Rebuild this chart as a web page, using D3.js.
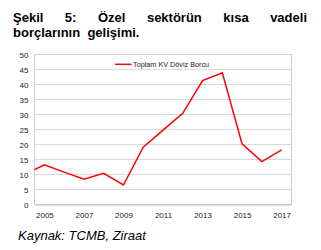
<!DOCTYPE html>
<html><head><meta charset="utf-8">
<script src="https://cdn.jsdelivr.net/npm/d3@7"></script>
<style>body{margin:0;background:#fff}svg{display:block}text{font-family:"Liberation Sans",Arial,sans-serif}</style>
</head><body>
<svg id="c" width="321" height="250"></svg>
<script>
const years = [2004,2005,2006,2007,2008,2009,2010,2011,2012,2013,2014,2015,2016,2017];
const values = [10.0,13.2,10.8,8.4,10.4,6.5,19.1,24.8,30.4,41.3,43.9,20.2,14.3,18.2];
const yTicks = [0,5,10,15,20,25,30,35,40,45,50];
const xTicks = [2005,2007,2009,2011,2013,2015,2017];
const seriesName = "Toplam KV Döviz Borcu";
const titleLine1 = ["Şekil","5:","Özel","sektörün","kısa","vadeli"];
const titleLine2 = "borçlarının  gelişimi.";
const caption = "Kaynak: TCMB, Ziraat";

const svg = d3.select("#c");
const L = 34.5, R = 291.5, T = 54.5, B = 204.5;
const x = d3.scaleLinear().domain([2004.5, 2017.5]).range([L, R]);
const y = d3.scaleLinear().domain([0, 50]).range([B, T]);

// title line 1, justified
const g1 = svg.append("g");
const words = g1.selectAll("text").data(titleLine1).join("text")
  .attr("y", 21.5).attr("font-size", 13).attr("font-weight", "bold").attr("fill", "#000")
  .text(d => d);
const widths = words.nodes().map(n => n.getComputedTextLength());
const total = d3.sum(widths);
const x0 = 13, x1 = 307;
const gap = (x1 - x0 - total) / (titleLine1.length - 1);
let cx = x0;
words.each(function(d, i){ d3.select(this).attr("x", cx); cx += widths[i] + gap; });
svg.append("text").attr("x", 13).attr("y", 36.5).attr("font-size", 13).attr("font-weight", "bold")
  .style("white-space", "pre").text(titleLine2);

// gridlines
svg.append("g").selectAll("line").data(yTicks.filter(d => d > 0)).join("line")
  .attr("x1", L).attr("x2", R).attr("y1", d => y(d)).attr("y2", d => y(d))
  .attr("stroke", "#d9d9d9").attr("stroke-width", 1);
// plot border
svg.append("rect").attr("x", L).attr("y", T).attr("width", R - L).attr("height", B - T)
  .attr("fill", "none").attr("stroke", "#cfcfcf").attr("stroke-width", 1);

// y axis
const ya = svg.append("g").attr("transform", `translate(${L},0)`)
  .call(d3.axisLeft(y).tickValues(yTicks).tickSize(0).tickPadding(6));
ya.select(".domain").remove();
ya.selectAll("text").attr("font-size", 8).attr("fill", "#222").attr("font-family", '"Liberation Sans",Arial,sans-serif');

// x axis
const xa = svg.append("g").attr("transform", `translate(0,${B})`)
  .call(d3.axisBottom(x).tickValues(xTicks).tickFormat(d3.format("d")).tickSize(0).tickPadding(8));
xa.select(".domain").attr("stroke", "#bfbfbf");
xa.selectAll("text").attr("font-size", 8).attr("fill", "#222").attr("font-family", '"Liberation Sans",Arial,sans-serif');

// clip
svg.append("clipPath").attr("id", "clip").append("rect")
  .attr("x", L).attr("y", T - 5).attr("width", R - L).attr("height", B - T + 10);

const line = d3.line().x((d, i) => x(years[i])).y(d => y(d));
svg.append("path").datum(values).attr("clip-path", "url(#clip)")
  .attr("d", line).attr("fill", "none").attr("stroke", "#ff0000").attr("stroke-width", 1.5)
  .attr("stroke-linejoin", "miter");

// legend
svg.append("line").attr("x1", 115).attr("x2", 131.5).attr("y1", 64.3).attr("y2", 64.3)
  .attr("stroke", "#ff0000").attr("stroke-width", 1.5);
svg.append("text").attr("x", 133).attr("y", 66.8).attr("font-size", 7.25).attr("fill", "#222").text(seriesName);

// caption
svg.append("text").attr("x", 18).attr("y", 239.5).attr("font-size", 13).attr("font-style", "italic")
  .attr("fill", "#000").text(caption);
</script>
</body></html>
